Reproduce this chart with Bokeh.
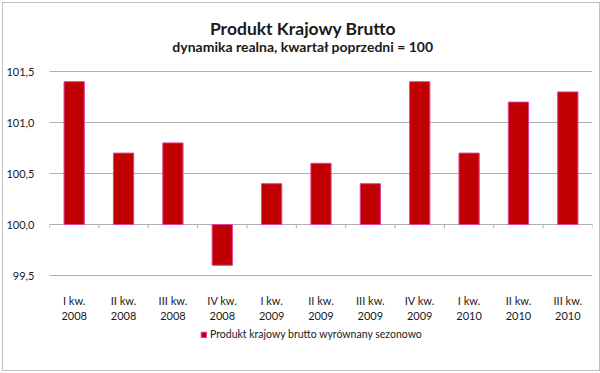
from bokeh.plotting import figure
from bokeh.models import Label, Legend, LegendItem, FixedTicker, Range1d, FactorRange
from bokeh.embed import file_html
from bokeh.resources import INLINE

quarters = ["I kw.", "II kw.", "III kw.", "IV kw.", "I kw.", "II kw.", "III kw.", "IV kw.", "I kw.", "II kw.", "III kw."]
years = ["2008", "2008", "2008", "2008", "2009", "2009", "2009", "2009", "2010", "2010", "2010"]
categories = [f"{q}\n{y}" for q, y in zip(quarters, years)]
values = [101.4, 100.7, 100.8, 99.6, 100.4, 100.6, 100.4, 101.4, 100.7, 101.2, 101.3]
baseline = 100.0
y_ticks = [99.5, 100.0, 100.5, 101.0, 101.5]
y_tick_labels = ["99,5", "100,0", "100,5", "101,0", "101,5"]
series_name = "Produkt krajowy brutto wyrównany sezonowo"
title_text = "Produkt Krajowy Brutto"
subtitle_text = "dynamika realna, kwartał poprzedni = 100"

FONT = "Lato"
TXT = "#1a1a1a"
GRID = "#b0b0b0"

# layout (pixels): plot area of 204 px for the 2-unit value axis, with
# room above for the titles and below for category labels and legend
PLOT_H = 204
TOP_SPACE = 68
BOTTOM_SPACE = 95
px_per_unit = PLOT_H / (y_ticks[-1] - y_ticks[0])
y_start = y_ticks[0] - BOTTOM_SPACE / px_per_unit
y_end = y_ticks[-1] + TOP_SPACE / px_per_unit

p = figure(
    x_range=FactorRange(*categories, range_padding=0),
    y_range=Range1d(y_start, y_end),
    frame_width=543, frame_height=PLOT_H + TOP_SPACE + BOTTOM_SPACE,
    output_backend="svg", toolbar_location=None, title=None,
    min_border_left=44, min_border_right=7, min_border_top=0, min_border_bottom=0,
)
p.styles = {"border": "1px solid #bfbfbf", "margin-left": "2px", "margin-top": "2px"}
p.outline_line_color = None
p.background_fill_color = "white"
p.border_fill_color = "white"

n = len(categories)
p.add_layout(Label(x=n / 2, y=y_end, x_offset=-18, y_offset=-25, text=title_text,
                   text_align="center", text_baseline="middle", text_font=FONT,
                   text_font_size="17.5px", text_font_style="bold", text_color=TXT))
p.add_layout(Label(x=n / 2, y=y_end, x_offset=-18, y_offset=-43, text=subtitle_text,
                   text_align="center", text_baseline="middle", text_font=FONT,
                   text_font_size="14px", text_font_style="bold", text_color=TXT))

r = p.vbar(x=categories, top=values, bottom=baseline, width=0.41,
           fill_color="#c00000", line_color="#e0409f", line_width=1)

# category tick marks on the horizontal axis line at the baseline
p.segment(x0=list(range(n + 1)), y0=[baseline] * (n + 1), x1=list(range(n + 1)),
          y1=[baseline - 4 / px_per_unit] * (n + 1), line_color=GRID, line_width=1)

p.yaxis.ticker = FixedTicker(ticks=y_ticks)
p.yaxis.major_label_overrides = {t: l for t, l in zip(y_ticks, y_tick_labels)}
p.yaxis.axis_line_color = None
p.yaxis.major_tick_line_color = None
p.yaxis.minor_tick_line_color = None
p.yaxis.major_label_text_font = FONT
p.yaxis.major_label_text_font_size = "11px"
p.yaxis.major_label_text_color = TXT
p.yaxis.major_label_standoff = 9

p.xaxis.fixed_location = y_ticks[0]
p.xaxis.axis_line_color = None
p.xaxis.major_tick_line_color = None
p.xaxis.major_tick_out = 0
p.xaxis.major_tick_in = 0
p.xaxis.major_label_text_font = FONT
p.xaxis.major_label_text_font_size = "11px"
p.xaxis.major_label_text_color = TXT
p.xaxis.major_label_standoff = 18

p.xgrid.grid_line_color = None
p.ygrid.ticker = FixedTicker(ticks=y_ticks)
p.ygrid.grid_line_color = GRID

legend = Legend(items=[LegendItem(label=series_name, renderers=[r])],
                location=(151, 30), orientation="horizontal",
                border_line_color=None, background_fill_alpha=0,
                label_text_font=FONT, label_text_font_size="10.5px", label_text_color=TXT,
                glyph_width=7, glyph_height=7, label_standoff=3, padding=0, margin=0,
                label_height=12)
p.add_layout(legend, "center")

open("out.html", "w").write(file_html(p, INLINE))
